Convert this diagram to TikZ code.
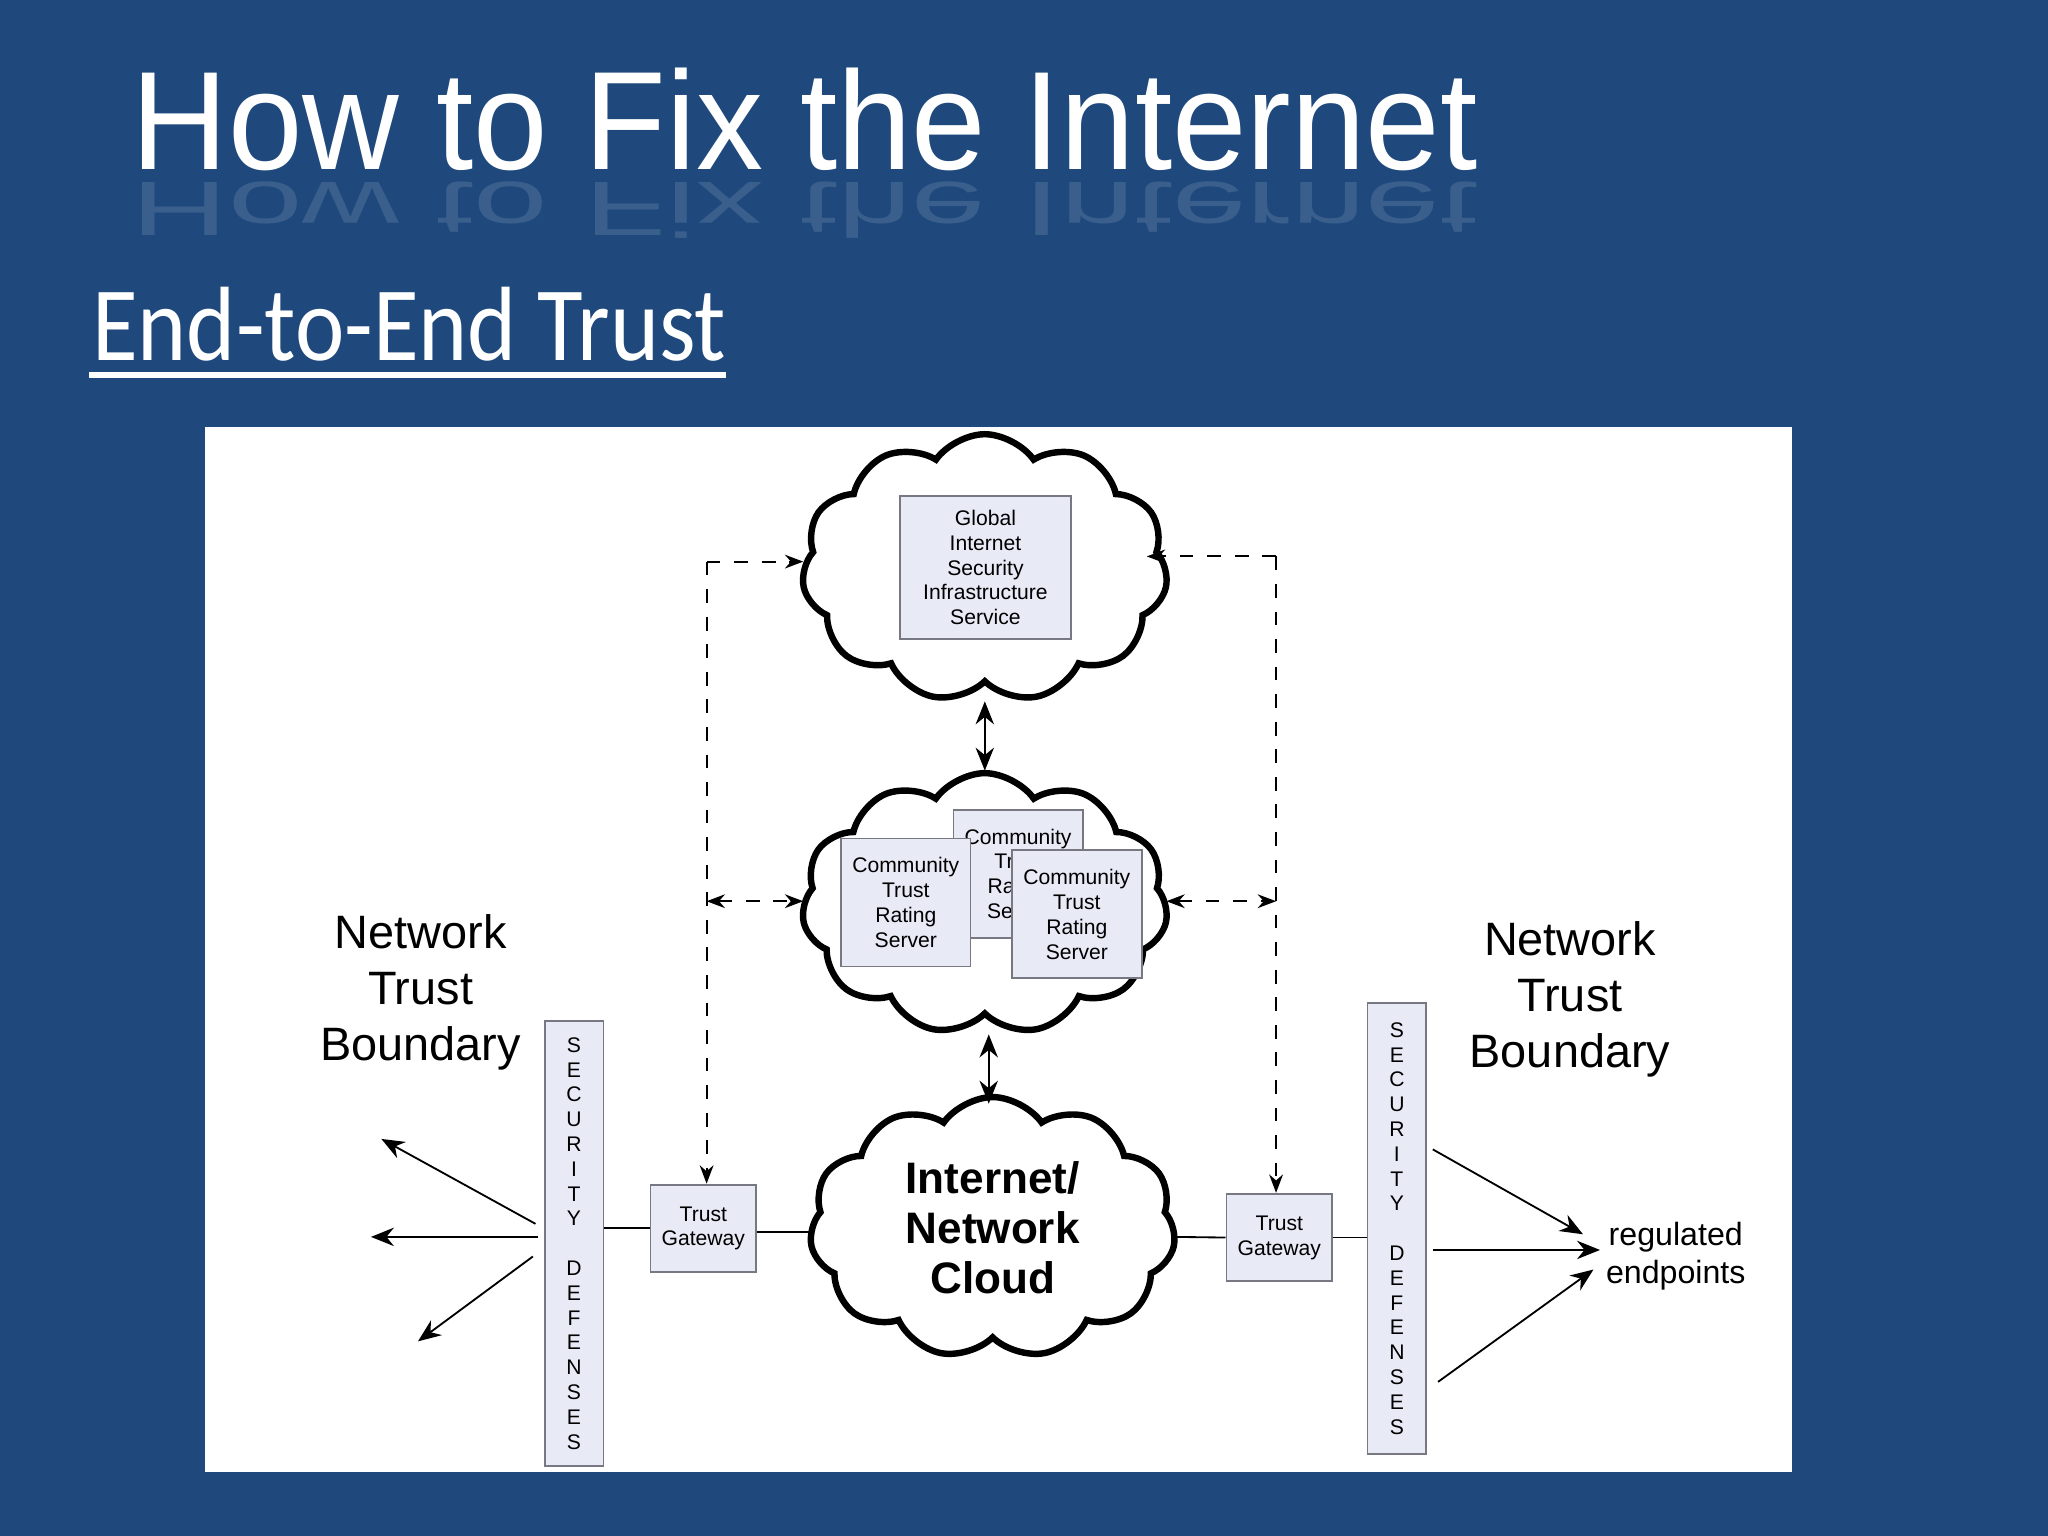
\documentclass[tikz,border=0pt]{standalone}
\usepackage{fontspec}
\setmainfont{Liberation Sans}
\newfontfamily\calib{Carlito}
\usetikzlibrary{shapes.symbols,arrows.meta}
\definecolor{slidebg}{RGB}{31,73,125}
\definecolor{boxfill}{RGB}{232,234,246}
\definecolor{boxline}{RGB}{120,120,130}
\tikzset{
  box/.style={draw=boxline, fill=boxfill, line width=0.4pt, inner sep=0pt, align=center, font=\fontsize{4.6}{5.4}\selectfont},
  puff/.style={cloud, cloud puffs=11, cloud puff arc=110, draw, line width=1.4pt, fill=white},
  dashlink/.style={dashed, line width=0.4pt, -{Stealth[length=4pt,width=3pt]}},
  dashboth/.style={dashed, line width=0.4pt, {Stealth[length=4pt,width=3pt]}-{Stealth[length=4pt,width=3pt]}},
  conn/.style={line width=0.4pt},
  arr/.style={line width=0.4pt, -{Stealth[length=5pt,width=4pt]}},
  arrboth/.style={line width=0.4pt, {Stealth[length=5pt,width=4pt]}-{Stealth[length=5pt,width=4pt]}},
  big/.style={align=center, font=\fontsize{10.2}{12.2}\selectfont}
}
\begin{document}
\begin{tikzpicture}[x=0.01cm, y=-0.01cm]
\fill[slidebg] (0,0) rectangle (1568,1176);
\useasboundingbox (0,0) rectangle (1568,1176);
% title and its reflection
\node (title) at (100,130) [anchor=base west, inner sep=0pt, text=white, xscale=0.955, font=\fontsize{30.5}{30}\selectfont] {How to Fix the Internet};
\node (refl) at (100,140) [anchor=base west, inner sep=0pt, text=white, opacity=0.12, xscale=0.955, yscale=-0.55, font=\fontsize{30.5}{30}\selectfont] {How to Fix the Internet};
\node (sub) at (70,276) [anchor=base west, inner sep=0pt, text=white, xscale=0.885, font=\calib\fontsize{23}{24}\selectfont] {End-to-End Trust};
\draw[white, line width=1.2pt] (68,287) -- (556,287);
% panel
\fill[white] (157,327) rectangle (1372,1127);
% clouds
\node (c1) at (754,435) [puff, minimum width=2.8cm, minimum height=2.05cm] {};
\node (c2) at (754,692) [puff, minimum width=2.8cm, minimum height=2.0cm] {};
\node (c3) at (760,940) [puff, minimum width=2.8cm, minimum height=2.0cm] {};
\node (c3t) at (c3.center) [align=center, font=\bfseries\fontsize{9.6}{10.8}\selectfont] {Internet/\\Network\\Cloud};
% boxes
\node (gis) at (754.5,434.5) [box, minimum width=1.31cm, minimum height=1.09cm] {Global\\Internet\\Security\\Infrastructure\\Service};
\node (ct1) at (779.5,669) [box, minimum width=0.99cm, minimum height=0.98cm] {Community\\Trust\\Rating\\Server};
\node (ct2) at (693.5,691) [box, minimum width=0.99cm, minimum height=0.98cm] {Community\\Trust\\Rating\\Server};
\node (ct3) at (824.5,700) [box, minimum width=0.99cm, minimum height=0.98cm] {Community\\Trust\\Rating\\Server};
\node (tg1) at (538.5,940.5) [box, minimum width=0.81cm, minimum height=0.67cm] {Trust\\Gateway};
\node (tg2) at (979.5,947.5) [box, minimum width=0.81cm, minimum height=0.67cm] {Trust\\Gateway};
\node (sd1) at (439.5,952) [box, minimum width=0.45cm, minimum height=3.40cm] {S\\E\\C\\U\\R\\I\\T\\Y\\ \\D\\E\\F\\E\\N\\S\\E\\S};
\node (sd2) at (1069.5,940.5) [box, minimum width=0.45cm, minimum height=3.45cm] {S\\E\\C\\U\\R\\I\\T\\Y\\ \\D\\E\\F\\E\\N\\S\\E\\S};
% labels
\node (ntb1) at (322,760) [big] {Network\\Trust\\Boundary};
\node (ntb2) at (1202,765) [big] {Network\\Trust\\Boundary};
\node (reg) at (1283,962) [align=center, font=\fontsize{7}{8.2}\selectfont] {regulated\\endpoints};
% dashed links
\coordinate (l1) at (541,430);
\coordinate (l2) at (541,690);
\coordinate (r1) at (977,426);
\coordinate (r2) at (977,690);
\draw[dashlink] (l1) -- (615,430);
\draw[dashlink] (l1) -- (tg1.north -| l1);
\draw[dashboth] (l2) -- (615,690);
\draw[dashlink] (r1) -- (878,426);
\draw[dashlink] (r1) -- (tg2.north -| r1);
\draw[dashboth] (893,690) -- (r2);
% solid links between clouds
\draw[arrboth] (754,537) -- (754,590);
\draw[arrboth] (757,792) -- (757,845);
\draw[conn] (sd1.east |- tg1.west) -- (tg1.west);
\draw[conn] (tg1.east |- 0,943) -- (623,943);
\draw[conn] (899,947) -- (tg2.west);
\draw[conn] (tg2.east) -- (sd2.west |- tg2.east);
% outward arrows
\coordinate (a1) at (292,872);
\coordinate (a2) at (284,947);
\coordinate (a3) at (320,1027);
\draw[arr] (410,937) -- (a1);
\draw[arr] (412,947) -- (a2);
\draw[arr] (408,962) -- (a3);
\draw[arr] (1097,880) -- (1212,945);
\draw[arr] (1097,957) -- (1225,957);
\draw[arr] (1101,1058) -- (1220,972);
\end{tikzpicture}
\end{document}
